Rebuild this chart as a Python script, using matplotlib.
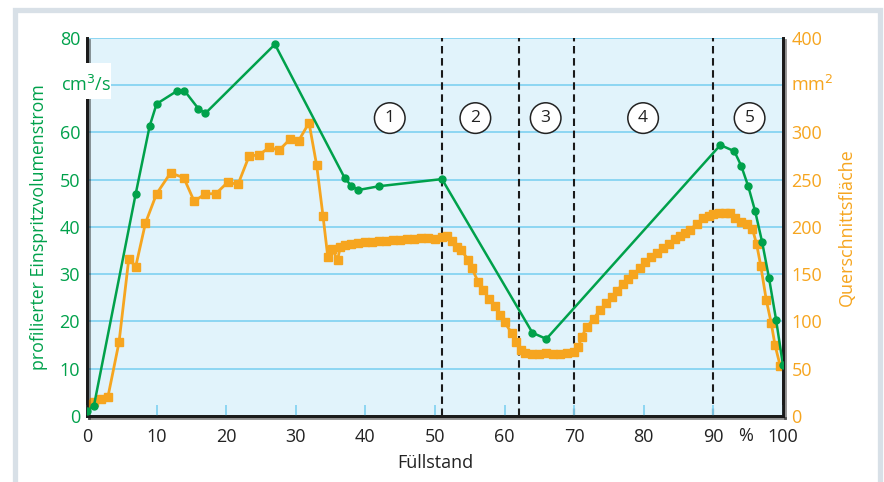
# Füllstand-Diagramm: Einspritzvolumenstrom und Querschnittsfläche
import matplotlib
matplotlib.use("Agg")
import matplotlib.pyplot as plt
import matplotlib.patheffects as pe
from matplotlib.patches import Rectangle

# Daten
fuell_gruen = [0, 1, 7, 9, 10, 13, 14, 16, 17, 27, 37, 38, 39, 42, 51, 64, 66,
               91, 93, 94, 95, 96, 97, 98, 99, 100]
volumenstrom = [1, 2.2, 47, 61.3, 66, 68.8, 68.8, 65, 64, 78.6, 50.4, 48.6, 47.8,
                48.6, 50.1, 17.6, 16.3, 57.3, 56, 52.9, 48.6, 43.3, 36.8, 29.1,
                20.4, 10.7]

fuell_orange = [0, 1, 2, 3, 4.6, 6, 7, 8.4, 10, 12, 13.9, 15.4, 17, 18.5, 20.2,
                21.7, 23.3, 24.7, 26.2, 27.6, 29.2, 30.4, 31.9, 33, 33.9, 34.6,
                35.2, 36, 36.4, 37, 38, 39, 40, 41, 42, 43, 44, 45, 46, 47, 48,
                49, 50, 51, 51.7, 52.5, 53.1, 53.8, 54.8, 55.3, 56.2, 56.9, 57.8,
                58.6, 59.3, 60, 61, 61.7, 62.4, 63, 64, 65, 66, 67, 68, 69, 70,
                70.6, 71.1, 71.8, 72.8, 73.7, 74.6, 75.4, 76.1, 77, 77.8, 78.5,
                79.4, 80.2, 81, 81.9, 82.8, 83.6, 84.5, 85.2, 85.9, 86.7, 87.6,
                88.5, 89.3, 90, 90.8, 91.6, 92.4, 93.1, 93.9, 94.8, 95.6, 96.2,
                96.8, 97.6, 98.3, 98.85, 99.6]
querschnitt = [13, 15, 18, 20, 78, 166, 158, 204, 235, 257, 252, 227, 235, 235,
               247, 245, 275, 276, 284, 281, 293, 291, 310, 265, 212, 168, 177,
               165, 179, 180.5, 182, 183, 184, 184.5, 185, 185.5, 186, 186.5,
               187, 187.5, 188, 188, 187.5, 189, 190, 185, 179, 175, 165, 156,
               142, 133, 124, 116, 107, 99, 88, 78.5, 70, 67, 66, 66, 67, 66,
               66, 67, 68, 73, 84, 94, 103, 112, 119, 126, 132, 140, 145, 150,
               156, 163, 168, 172.5, 178, 182, 187, 190, 194, 197, 203.5, 209,
               212, 214, 215, 215, 214.5, 209, 205, 203.5, 198, 182, 159, 122.5,
               98.6, 75, 53]

phasen_grenzen = [51, 62, 70, 90]
phasen_nr = ["1", "2", "3", "4", "5"]
phasen_x = [43.5, 55.8, 65.9, 79.9, 95.2]

x_ticks = [0, 10, 20, 30, 40, 50, 60, 70, 80, 90, 100]
links_ticks = [0, 10, 20, 30, 40, 50, 60, 80]
rechts_ticks = [0, 50, 100, 150, 200, 250, 300, 350, 400]
rechts_labels = ["0", "50", "100", "150", "200", "250", "300", "", "400"]

# Farben
gruen = "#00a14b"
orange = "#f6a51f"
hintergrund = "#e1f3fb"
gitter = "#86d3f2"

plt.rcParams["font.family"] = ["Open Sans", "DejaVu Sans"]

W, H = 884, 482
fig = plt.figure(figsize=(W / 100, H / 100), dpi=100)
fig.patch.set_facecolor("white")

# Rahmen um die Grafik
fig.add_artist(Rectangle((14.5 / W, -0.05), 865 / W, (H - 10) / H + 0.05,
                         transform=fig.transFigure, fill=False,
                         ec="#d8e0e7", lw=3.8, zorder=0))

ax = fig.add_axes([87 / W, (H - 416) / H, 696 / W, 378.3 / H])
ax2 = ax.twinx()
ax.set_zorder(2)
ax.patch.set_visible(False)
ax2.patch.set_visible(True)
ax2.set_facecolor(hintergrund)

ax.set_xlim(0, 100)
ax.set_ylim(0, 80)
ax2.set_ylim(0, 400)

# Gitter und Phasengrenzen (unten liegende Achse)
ax2.set_yticks(rechts_ticks)
ax2.set_yticklabels(rechts_labels)
ax2.grid(axis="y", color=gitter, lw=1.3)
ax2.set_axisbelow(True)
for xg in phasen_grenzen:
    ax2.axvline(xg, color="#1a1a1a", lw=1.5, ls=(0, (3.6, 2.2)), zorder=1)

# Kurven
ax2.plot(fuell_orange, querschnitt, color=orange, lw=2, marker="s", ms=5.6,
         zorder=3)
ax.plot(fuell_gruen, volumenstrom, color=gruen, lw=1.8, marker="o", ms=5,
        zorder=4)

# Phasennummern
for xp, nr in zip(phasen_x, phasen_nr):
    ax.text(xp, 63, nr, ha="center", va="center", fontsize=12.5, color="#222",
            bbox=dict(boxstyle="circle,pad=0.42", fc="white", ec="#222", lw=1.1),
            zorder=6)

# Achsen
ax.set_xticks(x_ticks)
ax.tick_params(axis="x", direction="in", length=8, width=1.3, color=gitter,
               pad=9, labelsize=13, labelcolor="#222")
ax.set_yticks(links_ticks)
ax.tick_params(axis="y", length=0, pad=5, labelsize=13, labelcolor=gruen)
ax2.tick_params(axis="y", length=0, pad=6, labelsize=13, labelcolor=orange)
ax2.tick_params(axis="x", length=0)
ax.text(94.6, -0.052, "%", transform=ax.get_xaxis_transform(), ha="center",
        va="center", fontsize=13, color="#222")

for a in (ax, ax2):
    a.spines["top"].set_visible(False)
    for s in ("left", "right", "bottom"):
        a.spines[s].set_color("#1a1a1a")
        a.spines[s].set_linewidth(2)
        a.spines[s].set_path_effects([
            pe.SimpleLineShadow(offset=(1.5, -1.5), shadow_color="k", alpha=0.25),
            pe.Normal()])

ax.set_xlabel("Füllstand", fontsize=13, color="#222")
ax.xaxis.label.set_va("center")
ax.xaxis.set_label_coords(0.5, -0.124)
ax.set_ylabel("profilierter Einspritzvolumenstrom", fontsize=12.8, color=gruen)
ax.yaxis.label.set_va("center")
ax.yaxis.set_label_coords(-0.069, 0.5)
ax2.set_ylabel("Querschnittsfläche", fontsize=13, color=orange)
ax2.yaxis.label.set_va("center")
ax2.yaxis.set_label_coords(1.092, 0.5)

# Einheiten an Stelle der Teilstriche 70 bzw. 350
fig.add_artist(Rectangle((56 / W, 1 - 99 / H), 55 / W, 36 / H,
                         transform=fig.transFigure, fc="white", ec="none",
                         zorder=5))
fig.text(61 / W, 1 - 85 / H, "cm$^3$/s", ha="left", va="center", fontsize=13,
         color=gruen, zorder=6)
fig.text(791 / W, 1 - 85 / H, "mm$^2$", ha="left", va="center", fontsize=13,
         color=orange, zorder=6)

fig.savefig("out.png", dpi=100)
